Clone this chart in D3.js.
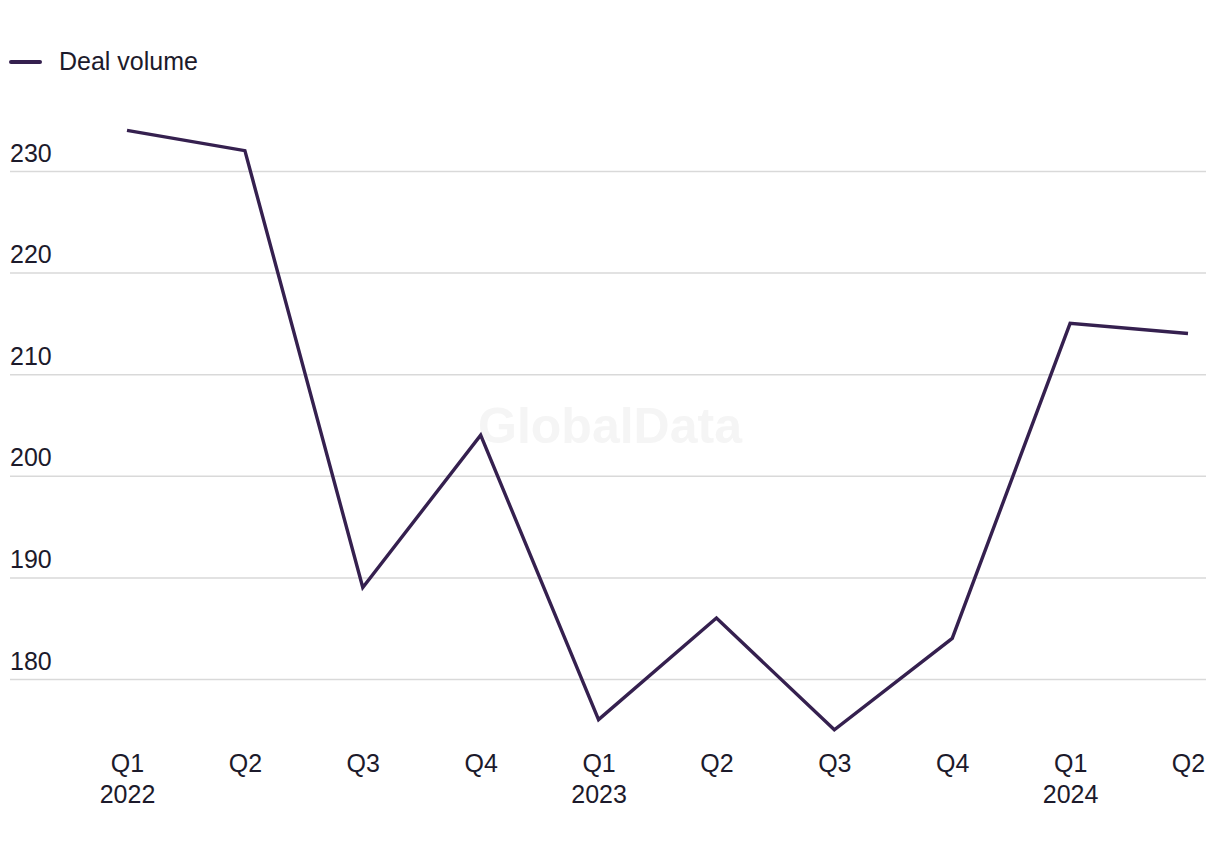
<!DOCTYPE html>
<html><head><meta charset="utf-8">
<script src="https://cdn.jsdelivr.net/npm/d3@7"></script>
<style>body{margin:0;background:#fff;} svg{display:block;}</style>
</head><body>
<svg id="c" width="1220" height="850"></svg>
<script>
const quarters = ["Q1","Q2","Q3","Q4","Q1","Q2","Q3","Q4","Q1","Q2"];
const years = ["2022","","","","2023","","","","2024",""];
const dealVolume = [234,232,189,204,176,186,175,184,215,214];
const yTicks = [180,190,200,210,220,230];
const seriesName = "Deal volume";

const svg = d3.select("#c");
const font = "'Liberation Sans', Arial, sans-serif";
const textColor = "#1c1a2b";
const lineColor = "#35204f";

const x = d3.scalePoint().domain(d3.range(quarters.length)).range([127,1188]);
const y = d3.scaleLinear().domain([180,230]).range([679,171]);

// watermark
svg.append("text").attr("x",610).attr("y",443).attr("text-anchor","middle")
  .attr("font-family",font).attr("font-weight","bold").attr("font-size",50)
  .attr("fill","#f5f5f5").text("GlobalData");

// grid
const yAxis = d3.axisLeft(y).tickValues(yTicks).tickSize(-1196).tickFormat(d3.format("d"));
const gy = svg.append("g").attr("transform","translate(10,0)").call(yAxis);
gy.select(".domain").remove();
gy.selectAll(".tick line").attr("stroke","#d9d9d9").attr("stroke-width",1.5);
gy.selectAll(".tick text").attr("x",0).attr("dy",-10).attr("text-anchor","start")
  .attr("font-family",font).attr("font-size",25).attr("fill",textColor);

// x axis
const xAxis = d3.axisBottom(x).tickSize(0).tickFormat(i=>quarters[i]);
const gx = svg.append("g").attr("transform","translate(0,752)").call(xAxis);
gx.select(".domain").remove();
gx.selectAll(".tick text").attr("font-family",font).attr("font-size",25).attr("fill",textColor)
  .attr("y",0).attr("dy","0.8em")
  .each(function(i){
    if(years[i]) d3.select(this.parentNode).append("text").attr("y",31).attr("dy","0.8em")
      .attr("text-anchor","middle").attr("font-family",font).attr("font-size",25).attr("fill",textColor).text(years[i]);
  });

// line
svg.append("path").datum(dealVolume)
  .attr("d", d3.line().x((d,i)=>x(i)).y(d=>y(d)))
  .attr("fill","none").attr("stroke",lineColor).attr("stroke-width",3.4).attr("stroke-linejoin","miter");

// legend
svg.append("line").attr("x1",11).attr("x2",40).attr("y1",62).attr("y2",62)
  .attr("stroke",lineColor).attr("stroke-width",4).attr("stroke-linecap","round");
svg.append("text").attr("x",59).attr("y",70).attr("font-family",font).attr("font-size",25)
  .attr("fill",textColor).text(seriesName);
</script>
</body></html>
